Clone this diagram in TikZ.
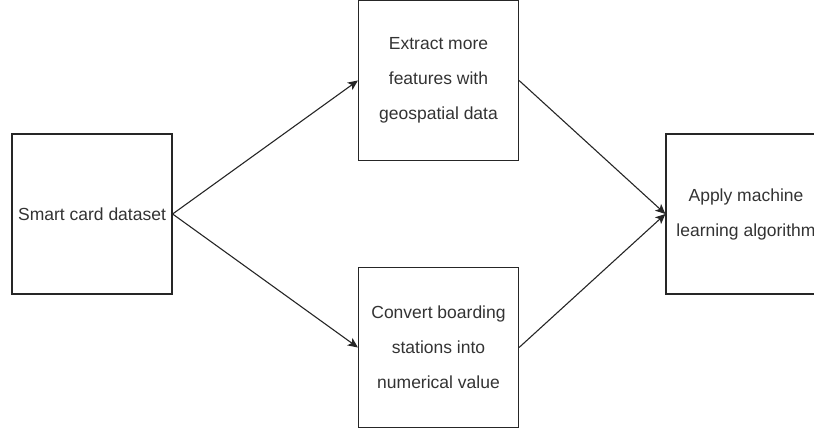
\documentclass[tikz,border=0pt]{standalone}
\usepackage{fontspec}
\setmainfont{Liberation Sans}
\usetikzlibrary{arrows.meta}
\definecolor{txtgray}{HTML}{333333}
\begin{document}
\begin{tikzpicture}[x=1pt,y=1pt,
  procbox/.style={draw=black!85, line width=1.2pt, minimum width=160pt, minimum height=160pt,
    inner sep=0pt, align=center, text=txtgray, font=\fontsize{17.5}{35}\selectfont},
  flow/.style={draw=black!85, line width=1.1pt, -{Stealth[length=10pt,width=9pt,inset=2.5pt]}}]
\useasboundingbox (0,0) rectangle (814,-430);
\node[procbox] (sc) at (92,-214) {Smart card dataset};
\node[procbox] (ex) at (438.5,-80.5) {Extract more\\features with\\geospatial data};
\node[procbox] (cv) at (438.5,-347.5) {Convert boarding\\stations into\\numerical value};
\node[procbox] (ml) at (746,-214) {Apply machine\\learning algorithm};
\draw[flow] (sc.east) -- (ex.west);
\draw[flow] (sc.east) -- (cv.west);
\draw[flow] (ex.east) -- (ml.west);
\draw[flow] (cv.east) -- (ml.west);
\end{tikzpicture}
\end{document}
